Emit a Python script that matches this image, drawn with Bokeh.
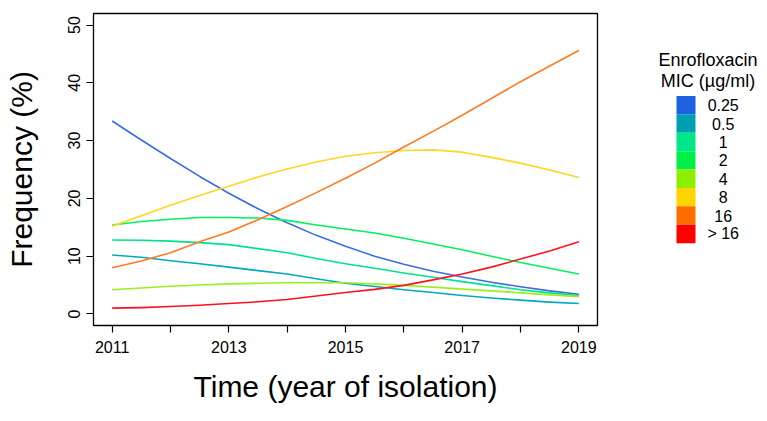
from bokeh.plotting import figure
from bokeh.models import Range1d, FixedTicker, ColumnDataSource
from bokeh.layouts import row
from bokeh.embed import file_html
from bokeh.resources import INLINE
from bokeh.core.properties import value

years = [2011.0, 2011.5, 2012.0, 2012.5, 2013.0, 2013.5, 2014.0, 2014.5, 2015.0,
         2015.5, 2016.0, 2016.5, 2017.0, 2017.5, 2018.0, 2018.5, 2019.0]
mic_labels = ["0.25", "0.5", "1", "2", "4", "8", "16", "> 16"]
colors = ["#1F62E2", "#00A0B2", "#00E68A", "#00F048", "#8CF000", "#FFD400", "#FF6C00", "#FF0000"]
line_colors = ["#3A6EE0", "#00A8C0", "#00E090", "#00F060", "#99F020", "#FFD620", "#FF7A20", "#FF1020"]

freq_025 = [33.4, 30.1, 26.9, 23.8, 20.9, 18.2, 15.8, 13.6, 11.7, 10.0, 8.6, 7.4, 6.4, 5.5, 4.7, 4.0, 3.4]
freq_05 = [10.2, 9.8, 9.2, 8.7, 8.1, 7.5, 6.9, 6.1, 5.3, 4.75, 4.2, 3.7, 3.2, 2.75, 2.4, 2.05, 1.8]
freq_1 = [12.8, 12.75, 12.6, 12.35, 12.0, 11.3, 10.6, 9.6, 8.7, 7.9, 7.1, 6.35, 5.6, 4.9, 4.2, 3.65, 3.2]
freq_2 = [15.4, 16.0, 16.4, 16.7, 16.7, 16.6, 16.2, 15.4, 14.7, 14.0, 13.1, 12.1, 11.1, 10.0, 8.9, 7.9, 6.9]
freq_4 = [4.2, 4.5, 4.8, 5.0, 5.2, 5.3, 5.4, 5.4, 5.4, 5.2, 4.95, 4.65, 4.3, 4.0, 3.65, 3.3, 3.0]
freq_8 = [15.2, 17.0, 18.8, 20.5, 22.1, 23.7, 25.1, 26.3, 27.3, 27.9, 28.3, 28.4, 28.0, 27.1, 26.1, 24.9, 23.6]
freq_16 = [8.0, 9.15, 10.6, 12.5, 14.2, 16.3, 18.6, 21.0, 23.5, 26.1, 28.9, 31.6, 34.4, 37.3, 40.2, 42.9, 45.6]
freq_gt16 = [1.0, 1.1, 1.3, 1.5, 1.8, 2.1, 2.5, 3.1, 3.7, 4.25, 4.95, 5.9, 6.9, 8.1, 9.5, 10.9, 12.5]
series = [freq_025, freq_05, freq_1, freq_2, freq_4, freq_8, freq_16, freq_gt16]

x_ticks = [2011, 2012, 2013, 2014, 2015, 2016, 2017, 2018, 2019]
x_tick_labels = ["2011", "", "2013", "", "2015", "", "2017", "", "2019"]
y_ticks = [0, 10, 20, 30, 40, 50]

FONT = "Liberation Sans"

p = figure(width=618, height=405, output_backend="svg", toolbar_location=None,
           x_range=Range1d(2010.68, 2019.32), y_range=Range1d(-2, 52),
           min_border_left=93, min_border_right=21, min_border_top=13, min_border_bottom=72)
p.background_fill_color = "white"
p.border_fill_color = "white"
p.grid.visible = False
p.outline_line_color = "black"
p.outline_line_width = 1.3

for ys, c in zip(series, line_colors):
    p.line(years, ys, line_color=c, line_width=1.6, line_join="round")

p.xaxis.ticker = FixedTicker(ticks=x_ticks)
p.xaxis.major_label_overrides = {t: l for t, l in zip(x_ticks, x_tick_labels)}
p.yaxis.ticker = FixedTicker(ticks=y_ticks)
p.yaxis.major_label_orientation = "vertical"
for ax in (p.xaxis, p.yaxis):
    ax.axis_line_color = None
    ax.minor_tick_line_color = None
    ax.major_tick_out = 7
    ax.major_tick_in = 0
    ax.major_tick_line_color = "black"
    ax.major_tick_line_width = 1.2
    ax.major_label_text_font = FONT
    ax.major_label_text_font_size = "16px"
    ax.major_label_text_color = "black"
    ax.axis_label_text_font = FONT
    ax.axis_label_text_font_style = "normal"
    ax.axis_label_text_font_size = "30px"
    ax.axis_label_text_color = "black"
p.xaxis.major_label_standoff = 8
p.yaxis.major_label_standoff = 6
p.xaxis.axis_label = "Time (year of isolation)"
p.yaxis.axis_label = "Frequency (%)"
p.xaxis.axis_label_standoff = 14
p.yaxis.axis_label_standoff = 28

# legend panel (its frame is aligned with the main frame by the row layout)
lg = figure(width=141, height=405, output_backend="svg", toolbar_location=None,
            x_range=Range1d(618, 759), y_range=Range1d(333.0, 12.7),
            min_border=0)
lg.axis.visible = False
lg.grid.visible = False
lg.outline_line_color = None
lg.border_fill_color = "white"
bh = 18.9
top0 = 97.3
n = len(mic_labels)
src = ColumnDataSource(dict(
    left=[676] * n, right=[695] * n,
    top=[top0 + i * bh for i in range(n)],
    bottom=[top0 + (i + 1) * bh for i in range(n)],
    color=colors, label=mic_labels,
    lx=[722.7] * n,
    ly=[top0 + (i + 0.5) * bh for i in range(n)],
))
lg.quad(left="left", right="right", top="top", bottom="bottom", fill_color="color",
        line_color=None, source=src)
lg.text(x="lx", y="ly", text="label", source=src, text_align="center", text_baseline="middle",
        text_font=value(FONT), text_font_size="16px", text_color="black")
lg.text(x=[707.5, 707.5], y=[60, 82], text=["Enrofloxacin", "MIC (\u00b5g/ml)"],
        text_align="center", text_baseline="middle",
        text_font=value(FONT), text_font_size="18px", text_color="black")

layout = row(p, lg, spacing=0)
open("out.html", "w").write(file_html(layout, INLINE))
